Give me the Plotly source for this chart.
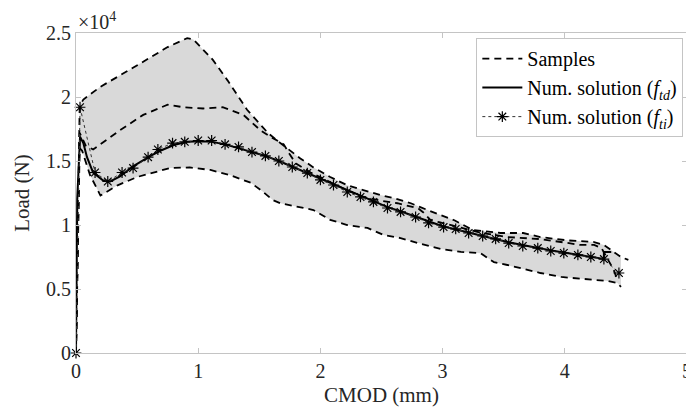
import plotly.graph_objects as go

# ---- data (CMOD in mm, Load in 10^4 N) ----
upper_x = [0, 0.03, 0.06, 0.20, 0.47, 0.75, 0.91, 0.96, 1.12, 1.24, 1.40, 1.57, 1.672, 1.836, 1.943,
           2.08, 2.22, 2.385, 2.49, 2.60, 2.74, 2.877, 2.98, 3.10, 3.25, 3.475, 3.66, 3.80, 4.02,
           4.24, 4.32, 4.46, 4.52]
upper_y = [0, 1.93, 1.98, 2.08, 2.23, 2.39, 2.46, 2.45, 2.29, 2.13, 1.90, 1.72, 1.64, 1.52, 1.45,
           1.375, 1.31, 1.26, 1.234, 1.21, 1.17, 1.117, 1.08, 1.035, 0.96, 0.9375, 0.9375, 0.906, 0.88,
           0.867, 0.844, 0.75, 0.727]

middle_x = [0, 0.03, 0.08, 0.14, 0.36, 0.55, 0.75, 0.88, 1.04, 1.20, 1.37, 1.51, 1.59, 1.70, 1.75,
            1.80, 1.92, 2.08, 2.22, 2.35, 2.49, 2.63, 2.80, 2.84, 2.90, 2.98, 3.31, 3.53, 3.80, 4.02,
            4.13, 4.24, 4.30, 4.40, 4.43]
middle_y = [0, 1.72, 1.62, 1.59, 1.74, 1.86, 1.94, 1.92, 1.91, 1.92, 1.86, 1.74, 1.69, 1.63, 1.55,
            1.48, 1.41, 1.336, 1.27, 1.22, 1.19, 1.17, 1.13, 1.10, 1.04, 1.02, 0.94, 0.906, 0.89, 0.86,
            0.844, 0.844, 0.82, 0.65, 0.57]

lower_x = [0, 0.03, 0.05, 0.115, 0.20, 0.34, 0.50, 0.77, 0.93, 1.10, 1.26, 1.43, 1.53, 1.61, 1.672,
           1.836, 1.943, 2.08, 2.22, 2.385, 2.516, 2.656, 2.795, 2.984, 3.15, 3.31, 3.42, 3.53, 3.70,
           3.80, 3.97, 4.16, 4.35, 4.43, 4.46]
lower_y = [0, 1.60, 1.58, 1.39, 1.23, 1.31, 1.375, 1.445, 1.45, 1.43, 1.39, 1.33, 1.26, 1.195, 1.17,
           1.14, 1.117, 1.04, 1.00, 0.977, 0.922, 0.898, 0.859, 0.8125, 0.79, 0.78, 0.71, 0.6875, 0.648,
           0.625, 0.594, 0.578, 0.5625, 0.547, 0.516]

ftd_x = [0, 0.01, 0.033, 0.06, 0.09, 0.14, 0.22, 0.28, 0.36, 0.47, 0.61, 0.69, 0.80, 0.91, 1.02,
         1.11, 1.22, 1.33, 1.44, 1.55, 1.66, 1.77, 1.89, 2.0, 2.11, 2.22, 2.33, 2.43, 2.55, 2.66,
         2.78, 2.89, 3.0, 3.11, 3.21, 3.33, 3.43, 3.54, 3.66, 3.78, 3.89, 3.99, 4.11, 4.21, 4.32,
         4.32, 4.38]
ftd_y = [0, 1.2, 1.69, 1.64, 1.53, 1.41, 1.35, 1.34, 1.38, 1.46, 1.54, 1.58, 1.625, 1.65, 1.655,
         1.65, 1.63, 1.60, 1.57, 1.54, 1.50, 1.455, 1.41, 1.36, 1.32, 1.27, 1.225, 1.185, 1.14, 1.105,
         1.065, 1.025, 0.99, 0.965, 0.94, 0.915, 0.89, 0.865, 0.84, 0.82, 0.80, 0.785, 0.765, 0.75, 0.735,
         0.79, 0.79]

fti_x = [0, 0.033, 0.156, 0.26, 0.377, 0.467, 0.59, 0.67, 0.79, 0.89, 1.0, 1.11, 1.22, 1.33, 1.44,
         1.55, 1.66, 1.77, 1.893, 2.0, 2.107, 2.22, 2.328, 2.434, 2.549, 2.656, 2.779, 2.885, 3.008,
         3.107, 3.213, 3.328, 3.434, 3.541, 3.656, 3.779, 3.885, 3.992, 4.107, 4.213, 4.32, 4.443]
fti_y = [0, 1.92, 1.41, 1.34, 1.41, 1.445, 1.53, 1.59, 1.64, 1.65, 1.66, 1.66, 1.63, 1.61, 1.57,
         1.54, 1.50, 1.453, 1.406, 1.352, 1.3125, 1.258, 1.219, 1.18, 1.133, 1.102, 1.0625, 1.016, 0.984,
         0.969, 0.9375, 0.914, 0.891, 0.859, 0.836, 0.820, 0.797, 0.781, 0.766, 0.75, 0.734, 0.625]

x_ticks = [0, 1, 2, 3, 4, 5]
y_ticks = [0, 0.5, 1, 1.5, 2, 2.5]
y_tick_labels = ["0", "0.5", "1", "1.5", "2", "2.5"]

FONT = "Liberation Serif, Times New Roman, serif"
AXC = "#c4c4c4"

fig = go.Figure()

# shaded envelope between max and min samples
fig.add_trace(go.Scatter(
    x=upper_x[:-1] + lower_x[::-1], y=upper_y[:-1] + lower_y[::-1],
    fill="toself", fillcolor="rgb(217,217,217)", line=dict(width=0),
    mode="lines", showlegend=False, hoverinfo="skip"))

dash = "7px,5px"
for i, (xs, ys) in enumerate([(upper_x, upper_y), (middle_x, middle_y), (lower_x, lower_y)]):
    fig.add_trace(go.Scatter(
        x=xs, y=ys, mode="lines", name="Samples", showlegend=(i == 0),
        line=dict(color="black", width=1.8, dash=dash)))

fig.add_trace(go.Scatter(
    x=ftd_x, y=ftd_y, mode="lines", name="Num. solution (<i>f</i><sub><i>td</i></sub>)",
    line=dict(color="black", width=2)))

fig.add_trace(go.Scatter(
    x=fti_x, y=fti_y, mode="lines+markers", name="Num. solution (<i>f</i><sub><i>ti</i></sub>)",
    line=dict(color="#333333", width=1, dash="dot"),
    marker=dict(symbol="asterisk-open", size=9, color="black", line=dict(color="black", width=1.2)),
    cliponaxis=False))

# page body adds an 8px offset; size/margins compensate so the plot area lands at x 76-687, y 33-353
fig.update_layout(
    width=686, height=405,
    margin=dict(l=68, r=7, t=25, b=60),
    plot_bgcolor="white", paper_bgcolor="white",
    font=dict(family=FONT, size=20, color="#262626"),
    showlegend=True,
    legend=dict(x=0.994, y=0.984, xanchor="right", yanchor="top",
                bgcolor="white", bordercolor=AXC, borderwidth=1,
                font=dict(family=FONT, size=20, color="black"),
                tracegroupgap=0, itemwidth=40),
    xaxis=dict(range=[0, 5], tickvals=x_ticks, ticks="inside", ticklen=5, tickcolor=AXC,
               showline=True, linecolor=AXC, linewidth=1, mirror="ticks", showgrid=False,
               zeroline=False, automargin=False,
               tickfont=dict(family=FONT, size=20, color="#262626"),
               title=dict(text="CMOD (mm)", font=dict(family=FONT, size=21), standoff=6)),
    yaxis=dict(range=[0, 2.5], tickvals=y_ticks, ticktext=y_tick_labels, ticks="inside", ticklen=5,
               tickcolor=AXC, showline=True, linecolor=AXC, linewidth=1, mirror="ticks",
               showgrid=False, zeroline=False, automargin=False,
               tickfont=dict(family=FONT, size=20, color="#262626"),
               title=dict(text="Load (N)", font=dict(family=FONT, size=21), standoff=10)),
    annotations=[dict(text="×10<sup>4</sup>", xref="paper", yref="paper", x=0, y=1,
                      xanchor="left", yanchor="bottom", showarrow=False,
                      font=dict(family=FONT, size=20, color="#262626"), yshift=-2)],
)

fig.write_html("out.html")
